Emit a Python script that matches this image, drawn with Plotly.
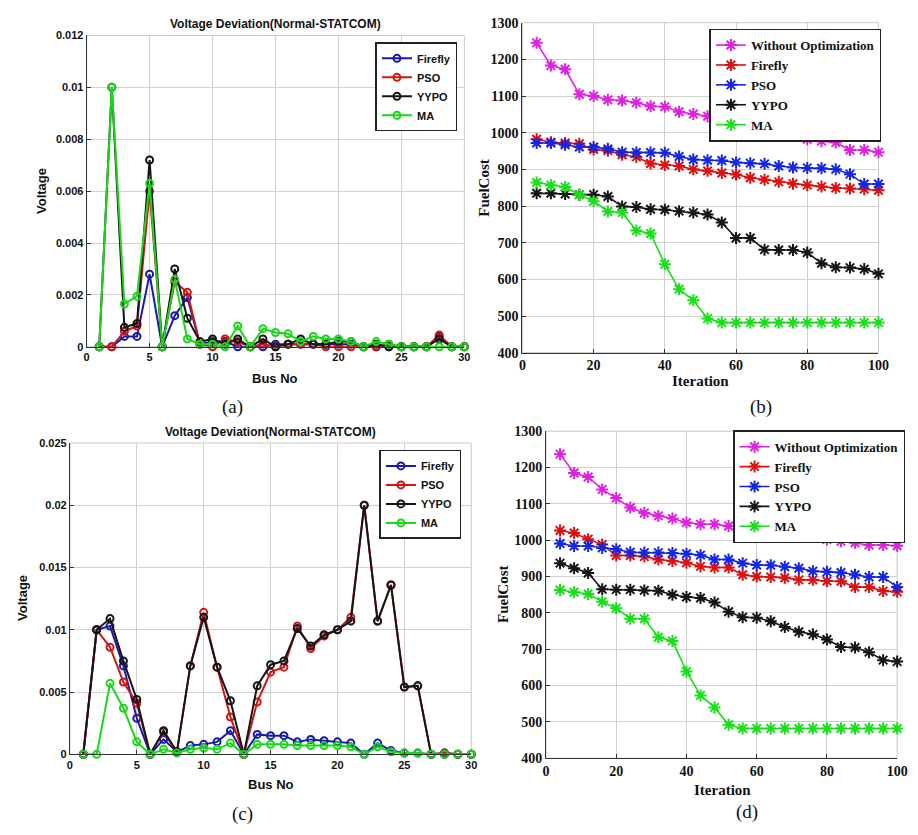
import plotly.graph_objects as go

W, H = 918, 835

# ---------------- data ----------------
bus = list(range(1, 31))
iters = list(range(4, 101, 4))

# (a) voltage deviation
a_firefly = [0, 0, 0.0004, 0.0004, 0.0028, 0, 0.0012, 0.0019, 0.0001, 0.0002,
             0.0002, 0, 0, 0, 0.0001, 0.0001, 0.0001, 0.0001, 0.0001, 0.0001,
             0.0001, 0, 0, 0, 0, 0, 0, 0.0004, 0, 0]
a_pso = [0, 0, 0.0006, 0.0008, 0.006, 0, 0.0025, 0.0021, 0.0001, 0,
         0.0003, 0.0002, 0, 0.0001, 0, 0.0001, 0.0001, 0.0001, 0, 0,
         0, 0, 0, 0.0001, 0, 0, 0, 0.00045, 0, 0]
a_yypo = [0, 0.01, 0.00075, 0.0009, 0.0072, 0, 0.003, 0.0011, 0.0002, 0.0003,
          0.0001, 0.0003, 0, 0.0003, 0, 0.0001, 0.0003, 0.0001, 0.0001, 0.0002,
          0.0002, 0, 0.0001, 0, 0, 0, 0, 0.0003, 0, 0]
a_ma = [0, 0.01, 0.00165, 0.00195, 0.0063, 0, 0.0026, 0.0003, 0.0001, 0.0001,
        0, 0.0008, 0, 0.0007, 0.00055, 0.0005, 0.0002, 0.0004, 0.0003, 0.0003,
        0.0002, 0, 0.0002, 0.0001, 0, 0, 0, 0, 0, 0]

# (b) fuel cost
b_without = [1245, 1183, 1173, 1105, 1100, 1090, 1088, 1082, 1072, 1071,
             1057, 1051, 1045, 1044, 1032, 1031, 1004, 1004, 997, 982,
             977, 973, 953, 953, 947]
b_firefly = [982, 974, 972, 970, 954, 951, 940, 934, 916, 912,
             909, 900, 896, 890, 886, 877, 872, 866, 861, 857,
             853, 849, 848, 846, 843]
b_pso = [972, 972, 967, 961, 961, 956, 947, 946, 946, 945,
         935, 927, 925, 924, 919, 917, 915, 909, 905, 904,
         903, 900, 887, 860, 860]
b_yypo = [835, 835, 833, 831, 831, 826, 799, 797, 791, 790,
          786, 782, 777, 755, 713, 713, 681, 680, 680, 673,
          644, 633, 632, 628, 615]
b_ma = [864, 857, 852, 831, 813, 785, 782, 733, 725, 641,
        573, 543, 493, 482, 482, 482, 482, 482, 482, 482,
        482, 482, 482, 482, 482]

# (c) voltage deviation
c_firefly = [0, 0.01, 0.0103, 0.0071, 0.0029, 0, 0.0012, 0.0002, 0.0007, 0.0008,
             0.001, 0.0019, 0, 0.0016, 0.0015, 0.0015, 0.001, 0.0012, 0.0011, 0.001,
             0.0009, 0, 0.0009, 0.0003, 0.0001, 0.0001, 0, 0.0001, 0, 0]
c_pso = [0, 0.01, 0.0086, 0.0058, 0.0041, 0, 0.0018, 0.0002, 0.0071, 0.0114,
         0.007, 0.003, 0, 0.0042, 0.0066, 0.007, 0.0103, 0.0085, 0.0095, 0.01,
         0.011, 0.02, 0.0107, 0.0136, 0.0054, 0.0055, 0, 0.0001, 0, 0]
c_yypo = [0, 0.01, 0.0109, 0.0075, 0.0044, 0, 0.0019, 0.0002, 0.0071, 0.011,
          0.007, 0.0043, 0, 0.0055, 0.0072, 0.0075, 0.0101, 0.0087, 0.0096, 0.01,
          0.0107, 0.02, 0.0107, 0.0136, 0.0054, 0.0055, 0, 0, 0, 0]
c_ma = [0, 0, 0.0057, 0.0037, 0.001, 0, 0.0004, 0.0001, 0.0004, 0.0005,
        0.0004, 0.0009, 0, 0.0008, 0.0008, 0.0008, 0.0007, 0.0007, 0.0007, 0.0007,
        0.0006, 0, 0.0006, 0.0002, 0.0001, 0.0001, 0, 0, 0, 0]

# (d) fuel cost
d_without = [1237, 1185, 1174, 1140, 1116, 1090, 1075, 1067, 1060, 1049,
             1044, 1044, 1039, 1037, 1024, 1024, 1015, 1015, 1010, 1002,
             997, 993, 987, 987, 985]
d_firefly = [1027, 1020, 1003, 988, 958, 958, 955, 947, 943, 938,
             928, 925, 925, 905, 900, 899, 897, 891, 891, 888,
             887, 871, 871, 860, 858]
d_pso = [991, 984, 984, 979, 975, 967, 966, 966, 965, 963,
         959, 947, 947, 937, 932, 931, 927, 923, 915, 913,
         911, 905, 899, 899, 871]
d_yypo = [937, 923, 910, 865, 864, 864, 862, 861, 850, 844,
          841, 829, 803, 788, 787, 777, 761, 748, 741, 727,
          706, 705, 692, 670, 666]
d_ma = [863, 857, 852, 831, 813, 784, 784, 733, 723, 639,
        573, 540, 492, 482, 482, 482, 482, 482, 482, 482,
        482, 482, 482, 482, 482]

volt_names = ["Firefly", "PSO", "YYPO", "MA"]
cost_names = ["Without Optimization", "Firefly", "PSO", "YYPO", "MA"]
volt_ticks_a = [0, 0.002, 0.004, 0.006, 0.008, 0.01, 0.012]
volt_ticks_c = [0, 0.005, 0.01, 0.015, 0.02, 0.025]
volt_lbl_a = ["0", "0.002", "0.004", "0.006", "0.008", "0.01", "0.012"]
volt_lbl_c = ["0", "0.005", "0.01", "0.015", "0.02", "0.025"]
bus_ticks = [0, 5, 10, 15, 20, 25, 30]
iter_ticks = [0, 20, 40, 60, 80, 100]
cost_ticks = [400, 500, 600, 700, 800, 900, 1000, 1100, 1200, 1300]

# ---------------- styling ----------------
volt_colors = ["#1a1aa8", "#d01515", "#151515", "#18d818"]
cost_colors = ["#e020e0", "#dd1010", "#1525e0", "#151515", "#18e018"]
ARIAL = "Liberation Sans, Arial, sans-serif"
TIMES = "Liberation Serif, Times New Roman, serif"
GRID = "#d0d0d0"


def px(x):
    return x / W


def py(y):
    return 1 - y / H


fig = go.Figure()

for vals, name, col in zip([a_firefly, a_pso, a_yypo, a_ma], volt_names, volt_colors):
    fig.add_trace(go.Scatter(x=bus, y=vals, name=name, mode="lines+markers",
                             line=dict(color=col, width=2),
                             marker=dict(symbol="circle-open", size=7, color=col, line=dict(width=2, color=col)),
                             xaxis="x", yaxis="y", legend="legend", cliponaxis=False))
for vals, name, col in zip([b_without, b_firefly, b_pso, b_yypo, b_ma], cost_names, cost_colors):
    fig.add_trace(go.Scatter(x=iters, y=vals, name=name, mode="lines+markers",
                             line=dict(color=col, width=1.6),
                             marker=dict(symbol="asterisk-open", size=10, color=col, line=dict(width=2, color=col)),
                             xaxis="x2", yaxis="y2", legend="legend2", cliponaxis=False))
for vals, name, col in zip([c_firefly, c_pso, c_yypo, c_ma], volt_names, volt_colors):
    fig.add_trace(go.Scatter(x=bus, y=vals, name=name, mode="lines+markers",
                             line=dict(color=col, width=2),
                             marker=dict(symbol="circle-open", size=7, color=col, line=dict(width=2, color=col)),
                             xaxis="x3", yaxis="y3", legend="legend3", cliponaxis=False))
for vals, name, col in zip([d_without, d_firefly, d_pso, d_yypo, d_ma], cost_names, cost_colors):
    fig.add_trace(go.Scatter(x=iters, y=vals, name=name, mode="lines+markers",
                             line=dict(color=col, width=1.6),
                             marker=dict(symbol="asterisk-open", size=10, color=col, line=dict(width=2, color=col)),
                             xaxis="x4", yaxis="y4", legend="legend4", cliponaxis=False))


def axis(domain, rng, ticks, font, size, anchor, labels=None):
    d = dict(domain=domain, range=rng, anchor=anchor, tickmode="array", tickvals=ticks,
             showgrid=True, gridcolor=GRID, gridwidth=1, zeroline=False,
             showline=True, linecolor="#333", linewidth=1,
             ticks="inside", ticklen=4, tickcolor="#333",
             tickfont=dict(family=font, size=size, color="#111", weight="bold"))
    if labels is not None:
        d["ticktext"] = labels
    return d


# panel pixel boxes (left, right, top, bottom)
A = (84, 468, 29, 346)
B = (527, 889, 16, 352)
C = (67, 475, 444, 761)
D = (551, 908, 432, 765)


def dx(b):
    return [px(b[0]), px(b[1])]


def dy(b):
    return [py(b[3]), py(b[2])]


fig.update_layout(
    width=W, height=H, margin=dict(l=0, r=0, t=0, b=0),
    paper_bgcolor="white", plot_bgcolor="white",
    xaxis=axis(dx(A), [0, 30], bus_ticks, ARIAL, 11, "y"),
    yaxis=axis(dy(A), [0, 0.012], volt_ticks_a, ARIAL, 11, "x", volt_lbl_a),
    xaxis2=axis(dx(B), [0, 100], iter_ticks, TIMES, 14, "y2"),
    yaxis2=axis(dy(B), [400, 1300], cost_ticks, TIMES, 14, "x2"),
    xaxis3=axis(dx(C), [0, 30], bus_ticks, ARIAL, 11, "y3"),
    yaxis3=axis(dy(C), [0, 0.025], volt_ticks_c, ARIAL, 11, "x3", volt_lbl_c),
    xaxis4=axis(dx(D), [0, 100], iter_ticks, TIMES, 14, "y4"),
    yaxis4=axis(dy(D), [400, 1300], cost_ticks, TIMES, 14, "x4"),
)

leg_common = dict(bgcolor="white", bordercolor="#222", borderwidth=1.5,
                  xanchor="right", yanchor="top", tracegroupgap=0, itemwidth=30)
fig.update_layout(
    legend=dict(x=px(461), y=py(36), font=dict(family=ARIAL, size=11, color="#111", weight="bold"), **leg_common),
    legend2=dict(x=px(892), y=py(22), font=dict(family=TIMES, size=13, color="#111", weight="bold"), **leg_common),
    legend3=dict(x=px(465), y=py(451), font=dict(family=ARIAL, size=11, color="#111", weight="bold"), **leg_common),
    legend4=dict(x=px(916), y=py(431), font=dict(family=TIMES, size=13, color="#111", weight="bold"), **leg_common),
)

# light grey top/right box edges
for ax in ["x", "x2", "x3", "x4"]:
    fig.add_shape(type="rect", xref=f"{ax} domain", yref=f"{ax.replace('x', 'y')} domain",
                  x0=0, x1=1, y0=0, y1=1, line=dict(color="#c8c8c8", width=1), layer="below")


def ann(text, x, y, font, size, angle=0, bold=True):
    fig.add_annotation(text=text, x=px(x), y=py(y), xref="paper", yref="paper",
                       showarrow=False, textangle=angle, xanchor="center", yanchor="middle",
                       font=dict(family=font, size=size, color="#111", weight="bold" if bold else "normal"))


ann("Voltage Deviation(Normal-STATCOM)", 276, 17, ARIAL, 12)
ann("Voltage Deviation(Normal-STATCOM)", 271, 433, ARIAL, 12)
ann("Bus No", 276, 378, ARIAL, 13)
ann("Bus No", 271, 792, ARIAL, 13)
ann("Voltage", 38, 187, ARIAL, 13, -90)
ann("Voltage", 18, 602, ARIAL, 13, -90)
ann("Iteration", 708, 381, TIMES, 15)
ann("Iteration", 730, 797, TIMES, 15)
ann("FuelCost", 488, 184, TIMES, 15, -90)
ann("FuelCost", 508, 598, TIMES, 15, -90)
ann("(a)", 232, 407, TIMES, 19, bold=False)
ann("(b)", 770, 407, TIMES, 19, bold=False)
ann("(c)", 242, 822, TIMES, 19, bold=False)
ann("(d)", 755, 820, TIMES, 19, bold=False)

fig.write_html("out.html")
